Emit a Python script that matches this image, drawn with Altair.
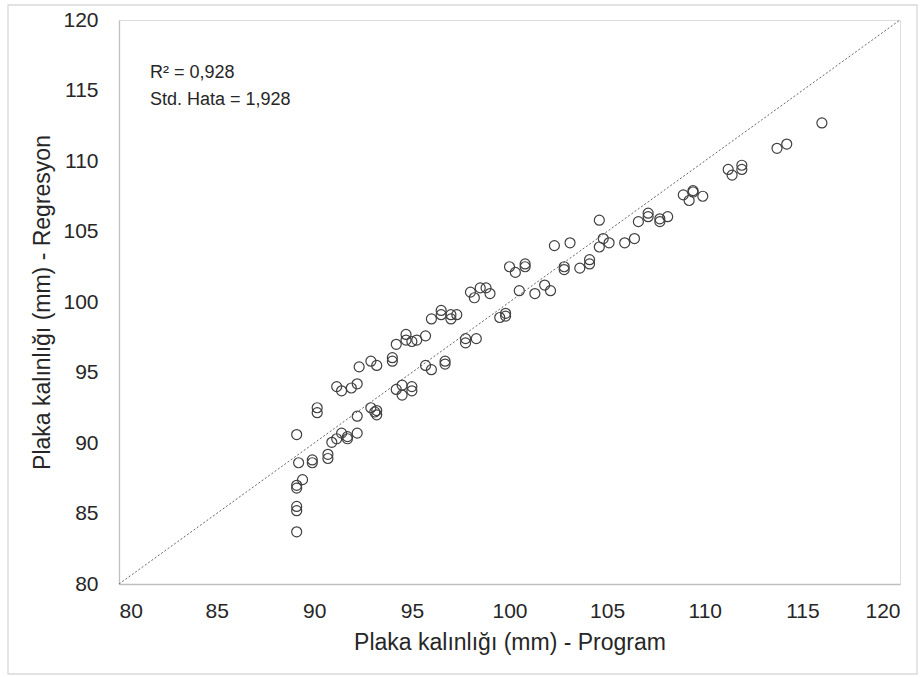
import altair as alt
import pandas as pd

# Data
program = [89.1, 89.1, 89.1, 89.1, 89.1, 89.4, 89.2, 89.1, 89.9, 89.9,
           90.7, 90.7, 90.9, 91.15, 91.4, 91.7, 91.7, 92.2, 92.2, 90.15,
           90.15, 92.9, 93.1, 93.2, 93.2, 91.15, 91.4, 91.9, 92.2, 92.3,
           92.9, 93.2, 94.0, 94.0, 94.2, 94.5, 94.5, 95.0, 95.0, 94.2,
           94.7, 94.7, 95.0, 95.25, 95.7, 95.7, 96.0, 96.0, 96.5, 96.5,
           97.0, 97.0, 97.3, 96.7, 96.7, 97.75, 97.75, 98.3, 98.0, 98.2,
           98.5, 98.8, 99.0, 99.5, 99.8, 99.8, 100.0, 100.3, 100.8, 100.8,
           100.5, 101.3, 101.8, 102.1, 102.3, 103.1, 102.8, 102.8, 103.6, 104.1,
           104.1, 104.6, 104.8, 104.6, 105.1, 105.9, 106.4, 106.6, 107.1, 107.1,
           107.7, 107.7, 108.1, 108.9, 109.2, 109.4, 109.4, 109.9, 111.2, 111.4,
           111.9, 111.9, 113.7, 114.2, 116.0]
regresyon = [83.7, 85.2, 85.5, 86.8, 87.0, 87.4, 88.6, 90.6, 88.6, 88.8,
             88.9, 89.2, 90.05, 90.3, 90.7, 90.45, 90.3, 90.7, 91.9, 92.5,
             92.15, 92.5, 92.2, 92.0, 92.3, 94.0, 93.7, 93.9, 94.2, 95.4,
             95.8, 95.5, 96.05, 95.8, 93.8, 94.1, 93.4, 94.0, 93.7, 97.0,
             97.7, 97.3, 97.2, 97.3, 97.6, 95.5, 95.2, 98.8, 99.4, 99.1,
             99.1, 98.8, 99.1, 95.8, 95.6, 97.4, 97.1, 97.4, 100.7, 100.3,
             101.0, 101.0, 100.6, 98.9, 99.2, 99.0, 102.5, 102.1, 102.7, 102.5,
             100.8, 100.6, 101.2, 100.8, 104.0, 104.2, 102.5, 102.3, 102.4, 103.0,
             102.7, 105.8, 104.5, 103.9, 104.2, 104.2, 104.5, 105.7, 106.3, 106.05,
             105.9, 105.7, 106.05, 107.6, 107.2, 107.9, 107.8, 107.5, 109.4, 109.0,
             109.7, 109.4, 110.9, 111.2, 112.7]
diag = [80, 120]
tick_values = [80, 85, 90, 95, 100, 105, 110, 115, 120]
annotation = ["R² = 0,928", "Std. Hata = 1,928"]
x_title = "Plaka kalınlığı (mm) - Program"
y_title = "Plaka kalınlığı (mm) - Regresyon"

pts = pd.DataFrame({"program": program, "regresyon": regresyon})
line_df = pd.DataFrame({"program": diag, "regresyon": diag})
ann_df = pd.DataFrame({"t": ["\n".join(annotation)]})

FONT = "Liberation Sans"
xscale = alt.Scale(domain=[80, 120], nice=False, zero=False)
yscale = alt.Scale(domain=[80, 120], nice=False, zero=False)

xaxis = alt.Axis(values=tick_values, title=x_title, grid=False, ticks=False,
                 domainColor="#bfbfbf", domainWidth=1.3, labelPadding=16,
                 labelFontSize=21, labelColor="#262626", labelFont=FONT,
                 titleFontSize=23, titleColor="#262626", titleFont=FONT,
                 titleFontWeight="normal", titlePadding=10, format="d")
yaxis = alt.Axis(values=tick_values, title=y_title, grid=False, ticks=False,
                 domainColor="#bfbfbf", domainWidth=1.3, labelPadding=21,
                 labelFontSize=21, labelColor="#262626", labelFont=FONT,
                 titleFontSize=23, titleColor="#262626", titleFont=FONT,
                 titleFontWeight="normal", titlePadding=8, format="d")

frame = alt.Chart(ann_df).mark_rect(fill="white", fillOpacity=0, stroke="#d9d9d9",
                                    strokeWidth=1.3).encode(
    x=alt.value(-111), x2=alt.value(798), y=alt.value(-15), y2=alt.value(654)
)

line = alt.Chart(line_df).mark_line(color="#666666", strokeDash=[2, 2], strokeWidth=1).encode(
    x=alt.X("program:Q", scale=xscale, axis=xaxis),
    y=alt.Y("regresyon:Q", scale=yscale, axis=yaxis),
)

points = alt.Chart(pts).mark_point(filled=False, shape="circle", size=100,
                                   stroke="#404040", strokeWidth=1.2, opacity=1).encode(
    x=alt.X("program:Q", scale=xscale),
    y=alt.Y("regresyon:Q", scale=yscale),
)

text = alt.Chart(ann_df).mark_text(align="left", baseline="alphabetic", fontSize=18,
                                   font=FONT, color="#262626", lineBreak="\n",
                                   lineHeight=27).encode(
    x=alt.value(31), y=alt.value(58), text="t:N"
)

chart = alt.layer(line, points, text, frame).properties(
    width=781, height=564,
    padding={"left": 119, "top": 20, "right": 24, "bottom": 93},
    autosize=alt.AutoSizeParams(type="none"),
).configure_view(stroke=None).configure(background="white")

chart.save("out.html", embed_options={"renderer": "svg", "actions": False})
